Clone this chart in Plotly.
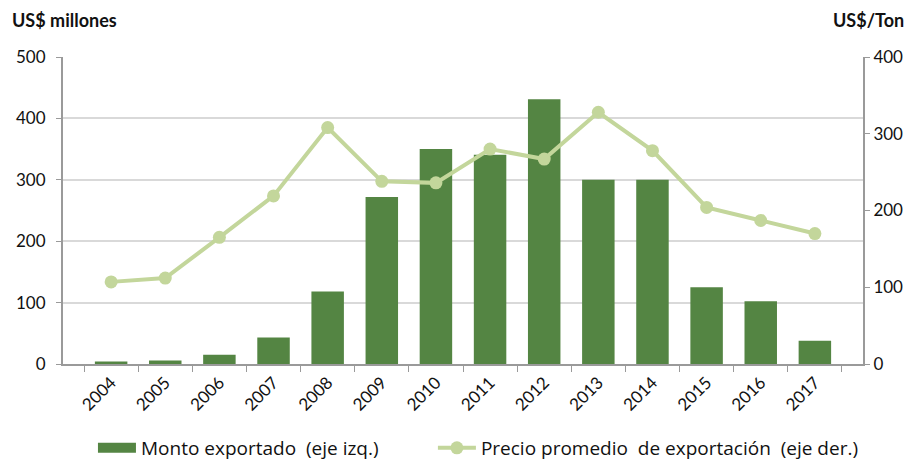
import plotly.graph_objs as go

years = ["2004", "2005", "2006", "2007", "2008", "2009", "2010",
         "2011", "2012", "2013", "2014", "2015", "2016", "2017"]
monto = [4, 5.5, 15, 43, 118, 272, 350, 341, 431, 300, 300, 125, 102, 38]
precio = [107, 112, 165, 219, 308, 238, 236, 280, 267, 328, 278, 204, 187, 170]

FONT = "Lato, 'Open Sans', sans-serif"
AXIS_GRAY = "#9a9a9a"
BAR_GREEN = "#548543"
LINE_GREEN = "#c3d69b"

fig = go.Figure()

fig.add_trace(go.Bar(
    x=years, y=monto, name="Monto exportado  (eje izq.)",
    marker=dict(color=BAR_GREEN, line=dict(width=0)),
    width=0.6, yaxis="y", showlegend=False,
))
# legend-only entry so the bar swatch is a wide rectangle like the original
fig.add_trace(go.Scatter(
    x=[None], y=[None], name="Monto exportado  (eje izq.)" + "\u00a0" * 10,
    mode="lines", line=dict(color=BAR_GREEN, width=14), yaxis="y",
))
fig.add_trace(go.Scatter(
    x=years, y=precio, name="Precio promedio  de exportación  (eje der.)",
    mode="lines+markers", yaxis="y2",
    line=dict(color=LINE_GREEN, width=4),
    marker=dict(color=LINE_GREEN, size=13),
))

# sized so the page (with the browser's 8px body margin) fits the window
fig.update_layout(
    width=899, height=455,
    margin=dict(l=55, r=44, t=49, b=99),
    plot_bgcolor="white", paper_bgcolor="white",
    font=dict(family=FONT, size=15, color="#111"),
    showlegend=True,
    legend=dict(orientation="h", xref="container", yref="container",
                x=0.0945, xanchor="left", y=0.033, yanchor="middle",
                font=dict(size=19, family="'Open Sans', Lato, sans-serif"),
                itemwidth=38, tracegroupgap=0),
    xaxis=dict(
        type="category", tickangle=-45, showline=True, linecolor=AXIS_GRAY, linewidth=2,
        ticks="outside", tickson="boundaries", ticklen=6, tickcolor=AXIS_GRAY,
        showgrid=False, tickfont=dict(size=17), automargin=False,
    ),
    yaxis=dict(
        range=[0, 500], dtick=100, showline=True, linecolor=AXIS_GRAY, linewidth=2,
        ticks="outside", ticklen=5, tickcolor=AXIS_GRAY, ticklabelstandoff=7,
        gridcolor="#d9d9d9", gridwidth=1.5, zeroline=False, tickfont=dict(size=17),
        automargin=False,
    ),
    yaxis2=dict(
        range=[0, 400], dtick=100, overlaying="y", side="right",
        showline=True, linecolor=AXIS_GRAY, linewidth=2,
        ticks="outside", ticklen=5, tickcolor=AXIS_GRAY,
        showgrid=False, zeroline=False, tickfont=dict(size=17), automargin=False,
    ),
    annotations=[
        dict(text="<b>US$ millones</b>", xref="paper", yref="paper", x=-0.066, y=1.12,
             xanchor="left", yanchor="middle", showarrow=False, font=dict(size=18)),
        dict(text="<b>US$/Ton</b>", xref="paper", yref="paper", x=1.054, y=1.12,
             xanchor="right", yanchor="middle", showarrow=False, font=dict(size=18)),
    ],
)

fig.write_html("out.html")
